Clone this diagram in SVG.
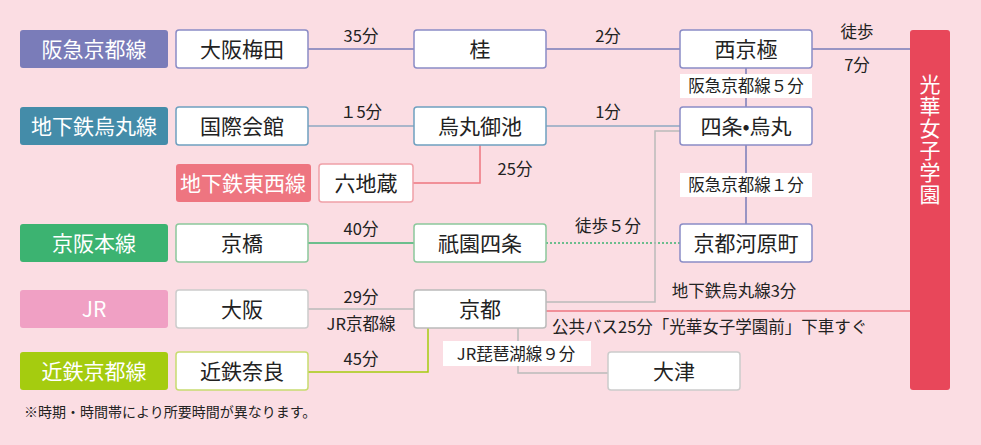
<svg xmlns="http://www.w3.org/2000/svg" width="981" height="445" viewBox="0 0 981 445">
<style>
text{font-family:"Noto Sans CJK JP","Noto Sans",sans-serif;fill:#222}
.lab text{fill:#fff;font-size:21px;text-anchor:middle}
.st rect{fill:#fff;stroke-width:1.5}
.st text{font-size:21px;text-anchor:middle}
.t{font-size:16.5px}
.c{fill:none;stroke-width:1.5}
</style>
<rect width="981" height="445" fill="#fbdde3"/>
<g id="connectors">
<path class="c" stroke="#7a7cb9" d="M308 49H414M546 49H680M812 49H910M746 68V262"/>
<path class="c" stroke="#8ea8c2" d="M308 126H414M546 126H680"/>
<path class="c" stroke="#ee7580" d="M413 183H480V145"/>
<path class="c" stroke="#3cb371" d="M308 243H414"/>
<path class="c" stroke="#3cb371" stroke-dasharray="2,2" d="M546 243H680"/>
<path class="c" stroke="#bbb" d="M308 309H414M546 302H655V131H680M518 328V373H608"/>
<path class="c" stroke="#a5cc0f" d="M308 372H428V328"/>
<path class="c" stroke="#ee7580" d="M546 311H910"/>
<rect x="680" y="74" width="132" height="24" fill="#fff"/>
<text class="t" x="746" y="92" text-anchor="middle">阪急京都線５分</text>
<rect x="680" y="173" width="132" height="24" fill="#fff"/>
<text class="t" x="746" y="191" text-anchor="middle">阪急京都線１分</text>
<rect x="443" y="341" width="148" height="25" fill="#fff"/>
<text class="t" x="516" y="360" text-anchor="middle">JR琵琶湖線９分</text>
<text class="t" x="361" y="42" text-anchor="middle">35分</text>
<text class="t" x="608" y="42" text-anchor="middle">2分</text>
<text class="t" x="857" y="38" text-anchor="middle">徒歩</text>
<text class="t" x="857" y="71" text-anchor="middle">7分</text>
<text class="t" x="361" y="118" text-anchor="middle">１5分</text>
<text class="t" x="608" y="118" text-anchor="middle">1分</text>
<text class="t" x="515" y="175" text-anchor="middle">25分</text>
<text class="t" x="361" y="235" text-anchor="middle">40分</text>
<text class="t" x="608" y="232" text-anchor="middle">徒歩５分</text>
<text class="t" x="361" y="303" text-anchor="middle">29分</text>
<text class="t" x="361" y="330" text-anchor="middle">JR京都線</text>
<text class="t" x="361" y="365" text-anchor="middle">45分</text>
<text class="t" x="734" y="297" text-anchor="middle">地下鉄烏丸線3分</text>
<text class="t" x="552" y="333">公共バス25分「光華女子学園前」下車すぐ</text>
</g>
<g id="lab-hankyu" class="lab"><rect x="20" y="30" width="148" height="38" rx="3" fill="#7a7cb9"/><text x="94" y="57">阪急京都線</text></g>
<g id="lab-karasuma" class="lab"><rect x="20" y="107" width="148" height="38" rx="3" fill="#448ca9"/><text x="94" y="134">地下鉄烏丸線</text></g>
<g id="lab-tozai" class="lab"><rect x="176" y="164" width="135" height="38" rx="3" fill="#ee7580"/><text x="243" y="191">地下鉄東西線</text></g>
<g id="lab-keihan" class="lab"><rect x="20" y="224" width="148" height="38" rx="3" fill="#3cb371"/><text x="94" y="251">京阪本線</text></g>
<g id="lab-jr" class="lab"><rect x="20" y="290" width="148" height="38" rx="3" fill="#f0a0c4"/><text x="94" y="317">JR</text></g>
<g id="lab-kintetsu" class="lab"><rect x="20" y="352" width="148" height="38" rx="3" fill="#a5cc0f"/><text x="94" y="379">近鉄京都線</text></g>
<g id="koka" class="lab"><rect x="910" y="30" width="40" height="360" rx="3" fill="#e8475a"/><text x="930" y="140" style="writing-mode:vertical-rl;text-orientation:upright;letter-spacing:1px" text-anchor="start">光華女子学園</text></g>
<g id="s-umeda" class="st"><rect x="176" y="30" width="132" height="38" rx="3" stroke="#8a8cc6"/><text x="242" y="57">大阪梅田</text></g>
<g id="s-katsura" class="st"><rect x="414" y="30" width="132" height="38" rx="3" stroke="#8a8cc6"/><text x="480" y="57">桂</text></g>
<g id="s-saikyogoku" class="st"><rect x="680" y="30" width="132" height="38" rx="3" stroke="#8a8cc6"/><text x="746" y="57">西京極</text></g>
<g id="s-kokusai" class="st"><rect x="176" y="107" width="132" height="38" rx="3" stroke="#6fa0c0"/><text x="242" y="134">国際会館</text></g>
<g id="s-oike" class="st"><rect x="414" y="107" width="132" height="38" rx="3" stroke="#6fa0c0"/><text x="480" y="134">烏丸御池</text></g>
<g id="s-shijo" class="st"><rect x="680" y="107" width="132" height="38" rx="3" stroke="#8a8cc6"/><text x="746" y="134">四条•烏丸</text></g>
<g id="s-rokujizo" class="st"><rect x="319" y="164" width="94" height="38" rx="3" stroke="#f0a0a8"/><text x="366" y="191">六地蔵</text></g>
<g id="s-kyobashi" class="st"><rect x="176" y="224" width="132" height="38" rx="3" stroke="#8cc89c"/><text x="242" y="251">京橋</text></g>
<g id="s-gion" class="st"><rect x="414" y="224" width="132" height="38" rx="3" stroke="#8cc89c"/><text x="480" y="251">祇園四条</text></g>
<g id="s-kawaramachi" class="st"><rect x="680" y="224" width="132" height="38" rx="3" stroke="#8a8cc6"/><text x="746" y="251">京都河原町</text></g>
<g id="s-osaka" class="st"><rect x="176" y="290" width="132" height="38" rx="3" stroke="#ccc"/><text x="242" y="317">大阪</text></g>
<g id="s-kyoto" class="st"><rect x="414" y="290" width="132" height="38" rx="3" stroke="#bbb"/><text x="480" y="317">京都</text></g>
<g id="s-nara" class="st"><rect x="176" y="352" width="132" height="38" rx="3" stroke="#c8dc70"/><text x="242" y="379">近鉄奈良</text></g>
<g id="s-otsu" class="st"><rect x="608" y="352" width="132" height="38" rx="3" stroke="#ccc"/><text x="674" y="379">大津</text></g>
<text x="24" y="417" font-size="14">※時期・時間帯により所要時間が異なります。</text>
</svg>
